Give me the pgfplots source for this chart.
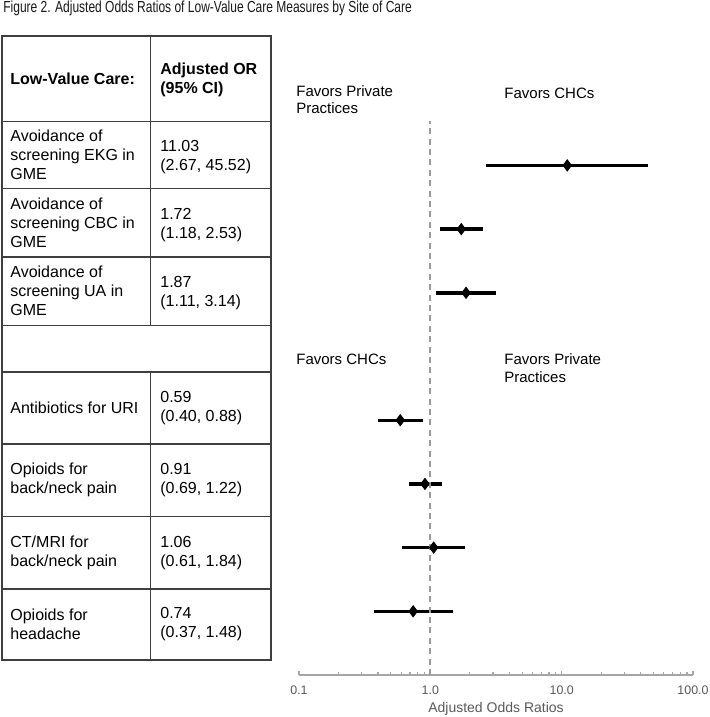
\documentclass[border=0pt]{standalone}
\usepackage{fontspec}
\setmainfont{Liberation Sans}
\usepackage{pgfplots}
\pgfplotsset{compat=1.18}
\definecolor{ruleInk}{HTML}{3F3F3F}
\definecolor{axGray}{HTML}{A6A6A6}
\definecolor{lblGray}{HTML}{595959}
\definecolor{dashGray}{HTML}{9A9A9A}

\begin{document}
\begin{tikzpicture}[x=0.5pt,y=-0.5pt]
\useasboundingbox (0,0) rectangle (709,717);

% title (source font is condensed)
\node[anchor=west,inner sep=0pt,font=\fontsize{8}{9}\selectfont,text=black!90]
  at (3,8) {\scalebox{0.75}[1]{Figure 2. Adjusted Odds Ratios of Low-Value Care Measures by Site of Care}};

% table grid
\begin{scope}[draw=ruleInk,line width=0.6pt]
\draw (2,36) rectangle (271,660);
\foreach \y in {121.5,188.5,257,325.5,372,444,516.5,589} \draw (2,\y)--(271,\y);
\draw (150.7,36)--(150.7,325.5);
\draw (150.7,372)--(150.7,660);
\end{scope}

\tikzset{cell/.style={anchor=west,inner sep=0pt,align=left,font=\fontsize{8}{9.5}\selectfont}}
\node[cell] at (10,79) {\bfseries Low-Value Care:};
\node[cell] at (160,79.5) {\bfseries Adjusted OR\\\bfseries (95\% CI)};
\node[cell] at (10,155) {Avoidance of\\screening EKG in\\GME};
\node[cell] at (160,157) {11.03\\(2.67, 45.52)};
\node[cell] at (10,222.7) {Avoidance of\\screening CBC in\\GME};
\node[cell] at (160,224.7) {1.72\\(1.18, 2.53)};
\node[cell] at (10,291) {Avoidance of\\screening UA in\\GME};
\node[cell] at (160,293) {1.87\\(1.11, 3.14)};
\node[cell] at (10,408) {Antibiotics for URI};
\node[cell] at (160,408) {0.59\\(0.40, 0.88)};
\node[cell] at (10,480) {Opioids for\\back/neck pain};
\node[cell] at (160,480) {0.91\\(0.69, 1.22)};
\node[cell] at (10,553) {CT/MRI for\\back/neck pain};
\node[cell] at (160,553) {1.06\\(0.61, 1.84)};
\node[cell] at (10,624.5) {Opioids for\\headache};
\node[cell] at (160,624.5) {0.74\\(0.37, 1.48)};

% direction labels
\tikzset{fav/.style={anchor=west,inner sep=0pt,align=left,font=\fontsize{7.5}{8.85}\selectfont}}
\node[fav] at (296,99.5) {Favors Private\\Practices};
\node[fav] at (504,93.3) {Favors CHCs};
\node[fav] at (296,359) {Favors CHCs};
\node[fav] at (504,368) {Favors Private\\Practices};

\begin{axis}[
  at={(149.5pt,-337.5pt)}, anchor=south west,
  scale only axis, width=197pt, height=286.65pt,
  xmode=log, xmin=0.1, xmax=100, ymin=0, ymax=9,
  axis x line=bottom, axis y line=none,
  axis line style={axGray,line width=0.8pt,-},
  xtick={0.1,1,10,100}, xticklabels={0.1,1.0,10.0,100.0},
  minor xtick={0.2,0.3,0.4,0.5,0.6,0.7,0.8,0.9,2,3,4,5,6,7,8,9,20,30,40,50,60,70,80,90},
  tick align=inside, major tick length=2.2pt, minor tick length=1.5pt,
  tick style={axGray,line width=0.6pt},
  xticklabel style={font=\fontsize{6.2}{7}\selectfont,text=lblGray,yshift=-1.8pt},
  xlabel={Adjusted Odds Ratios},
  xlabel style={font=\fontsize{7}{8}\selectfont,text=lblGray,yshift=2.8pt},
  clip=false
]
% 95% CIs
\addplot[black,line width=1.7pt] coordinates {(2.67,8)(45.52,8)};
\addplot[black,line width=1.7pt] coordinates {(1.18,7)(2.53,7)};
\addplot[black,line width=1.7pt] coordinates {(1.11,6)(3.14,6)};
\addplot[black,line width=1.7pt] coordinates {(0.40,4)(0.88,4)};
\addplot[black,line width=1.7pt] coordinates {(0.69,3)(1.22,3)};
\addplot[black,line width=1.7pt] coordinates {(0.61,2)(1.84,2)};
\addplot[black,line width=1.7pt] coordinates {(0.37,1)(1.48,1)};
\draw[dashGray,line width=0.9pt,dash pattern=on 3pt off 2.2pt] (axis cs:1,0) -- (axis cs:1,8.69);
% point estimates
\addplot[only marks,mark=diamond*,mark size=2.8pt,black]
  coordinates {(11.03,8)(1.72,7)(1.87,6)(0.59,4)(0.91,3)(1.06,2)(0.74,1)};
\end{axis}
\end{tikzpicture}
\end{document}
